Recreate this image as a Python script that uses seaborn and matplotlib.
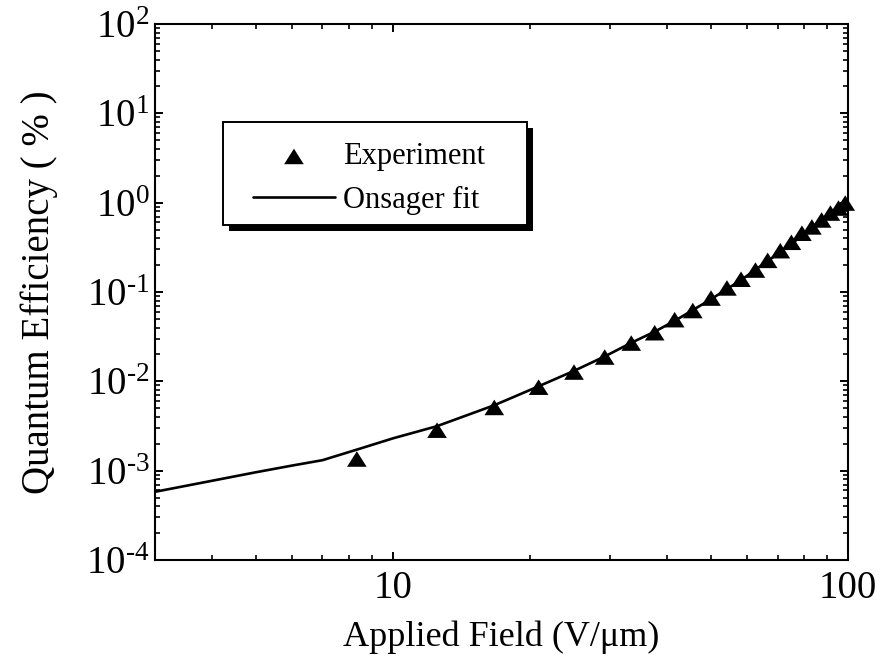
import math
import matplotlib
matplotlib.use("Agg")
import matplotlib.pyplot as plt
import matplotlib.ticker as mticker
from matplotlib.patches import Rectangle
import seaborn as sns
import pandas as pd

# ---- data ----
exp_field = [8.33, 12.5, 16.7, 20.9, 25.0, 29.2, 33.4, 37.6, 41.6, 45.6, 50.0,
             54.2, 58.2, 62.6, 66.6, 71.0, 75.1, 79.2, 83.3, 87.5, 91.5, 95.3, 98.6]
exp_qe = [1.35e-3, 2.84e-3, 5.1e-3, 8.6e-3, 0.0127, 0.0187, 0.0268, 0.0350, 0.0490,
          0.0620, 0.0855, 0.111, 0.139, 0.176, 0.226, 0.290, 0.360, 0.455, 0.535,
          0.640, 0.765, 0.870, 0.99]

fit_field = [3.0, 4.0, 5.0, 6.0, 7.0, 8.33, 10.0, 12.5, 16.7, 20.9, 25.0, 29.2,
             33.4, 37.6, 41.6, 50.0, 58.2, 66.6, 75.1, 83.3, 91.5, 100.0]
fit_qe = [5.8e-4, 7.7e-4, 9.6e-4, 1.14e-3, 1.31e-3, 1.72e-3, 2.3e-3, 3.15e-3,
          5.4e-3, 8.8e-3, 0.0131, 0.0190, 0.0270, 0.0360, 0.0475, 0.083, 0.136,
          0.222, 0.345, 0.525, 0.760, 1.03]

x_ticks = [10, 100]
x_ticklabels = ["10", "100"]
legend_labels = ["Experiment", "Onsager fit"]
x_label = "Applied Field (V/μm)"
y_label = "Quantum Efficiency ( % )"

exp_df = pd.DataFrame({"field": exp_field, "qe": exp_qe})
fit_df = pd.DataFrame({"field": fit_field, "qe": fit_qe})

sns.set_theme(style="ticks")
plt.rcParams["font.family"] = ["Liberation Serif", "DejaVu Serif"]
plt.rcParams["mathtext.fontset"] = "custom"
plt.rcParams["mathtext.rm"] = "Liberation Serif"
plt.rcParams["mathtext.it"] = "Liberation Serif:italic"
plt.rcParams["mathtext.bf"] = "Liberation Serif:bold"
plt.rcParams["axes.unicode_minus"] = False

W, H = 881, 664
fig = plt.figure(figsize=(W / 100, H / 100), dpi=100)
L, R, T, B = 155, 848, 24, 560
ax = fig.add_axes([L / W, 1 - B / H, (R - L) / W, (B - T) / H])


def px_to_axes(px, py):
    return (px - L) / (R - L), (B - py) / (B - T)


tri = [(-1.0, -0.79), (1.0, -0.79), (0.0, 0.79)]

sns.lineplot(data=fit_df, x="field", y="qe", ax=ax, color="black", lw=1.9,
             sort=False, estimator=None, label=legend_labels[1], zorder=2)
sns.scatterplot(data=exp_df, x="field", y="qe", ax=ax, color="black",
                marker=tri, s=200, edgecolor="none", linewidth=0,
                label=legend_labels[0], zorder=3, clip_on=False)

ax.set_xscale("log")
ax.set_yscale("log")
ax.set_xlim(3, 100)
ax.set_ylim(1e-4, 1e2)

ax.set_xticks(x_ticks)
ax.set_xticklabels(x_ticklabels)
ax.xaxis.set_minor_locator(mticker.LogLocator(base=10, subs=range(2, 10), numticks=20))
ax.xaxis.set_minor_formatter(mticker.NullFormatter())
ax.yaxis.set_major_locator(mticker.LogLocator(base=10, numticks=20))
ax.yaxis.set_minor_locator(mticker.LogLocator(base=10, subs=range(2, 10), numticks=20))
ax.yaxis.set_minor_formatter(mticker.NullFormatter())


def ylab(v, p):
    e = int(round(math.log10(v)))
    if e < 0:
        return r"$\mathregular{10^{\text{-}%d}}$" % (-e)
    return r"$\mathregular{10^{%d}}$" % e


ax.yaxis.set_major_formatter(mticker.FuncFormatter(ylab))

ax.tick_params(which="both", direction="in", top=True, right=True,
               color="black", labelcolor="black", labelsize=28)
ax.tick_params(which="major", length=6, width=1.4)
ax.tick_params(axis="y", which="major", pad=4)
ax.tick_params(axis="x", which="major", pad=7)
ax.tick_params(which="minor", length=3.5, width=1.2)
for s in ax.spines.values():
    s.set_linewidth(1.5)
    s.set_color("black")

ax.set_xlabel(x_label, fontsize=26, color="black")
ax.xaxis.set_label_coords(0.5, px_to_axes(0, 620)[1])
ax.set_ylabel(y_label, fontsize=28, color="black")
ax.yaxis.set_label_coords(px_to_axes(58, 0)[0], 0.5)

# legend: frame + hard black shadow drawn as patches, entries via ax.legend
bx0, by0 = px_to_axes(222.7, 225)
bx1, by1 = px_to_axes(526.7, 121.7)
sh = 6
sx0, sy0 = px_to_axes(222.7 + sh, 225 + sh)
sx1, sy1 = px_to_axes(526.7 + sh, 121.7 + sh)
ax.add_patch(Rectangle((sx0, sy0), sx1 - sx0, sy1 - sy0, transform=ax.transAxes,
                       facecolor="black", edgecolor="none", zorder=8, clip_on=False))
ax.add_patch(Rectangle((bx0, by0), bx1 - bx0, by1 - by0, transform=ax.transAxes,
                       facecolor="white", edgecolor="black", linewidth=1.4,
                       zorder=9, clip_on=False))

handles, labels = ax.get_legend_handles_labels()
order = [labels.index(legend_labels[0]), labels.index(legend_labels[1])]
ax_x, ax_y = px_to_axes(253, 178.5)
leg = ax.legend([handles[i] for i in order], [labels[i] for i in order],
                loc="center left", bbox_to_anchor=(ax_x, ax_y),
                borderaxespad=0, borderpad=0, fontsize=22, frameon=False,
                handlelength=2.68, handletextpad=0.27, labelspacing=0.46,
                scatterpoints=1)
leg.set_zorder(10)
for t in leg.get_texts():
    t.set_color("black")

fig.savefig("out.png", dpi=100, facecolor="white")
